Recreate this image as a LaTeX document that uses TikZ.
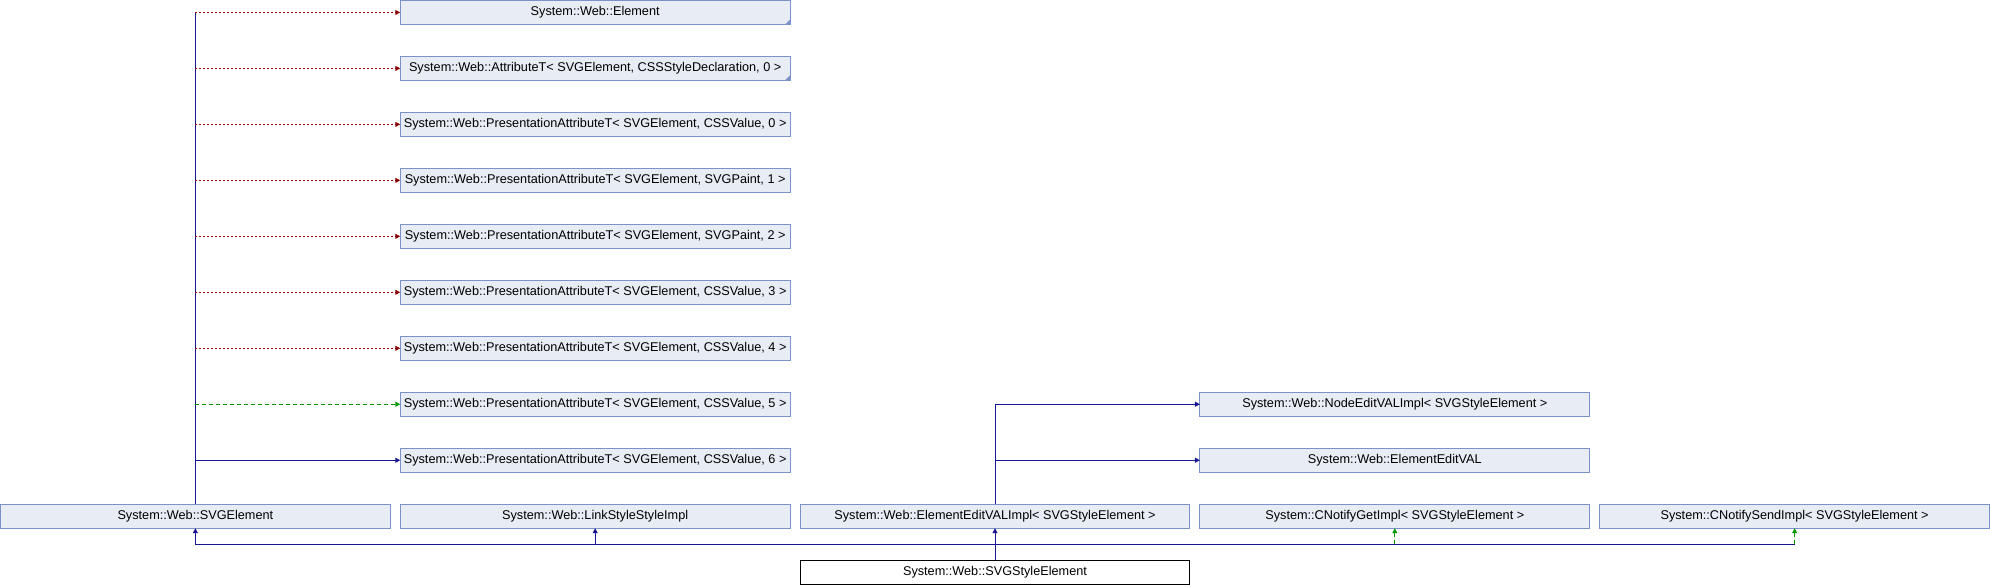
\documentclass[tikz,border=0pt]{standalone}
\usepackage{fontspec}
\setmainfont{Liberation Sans}
\usetikzlibrary{arrows.meta,matrix,positioning}
\definecolor{boxfill}{RGB}{232,236,245}
\definecolor{boxdraw}{RGB}{124,146,202}
\definecolor{pubblue}{RGB}{22,22,145}
\definecolor{privred}{RGB}{140,8,8}
\definecolor{protgreen}{RGB}{0,150,0}
\tikzset{>={Triangle[length=5pt,width=5pt]},
  classbox/.style={draw=boxdraw, fill=boxfill, line width=0.9pt,
    minimum width=390pt, minimum height=24pt, inner sep=0pt,
    outer sep=0pt, font=\fontsize{12.7}{14}\selectfont},
  mainbox/.style={classbox, draw=black, fill=white},
  pub/.style={->, draw=pubblue, line width=1pt},
  priv/.style={->, draw=privred, line width=1pt,
    dash pattern=on 2pt off 2pt},
  prot/.style={->, draw=protgreen, line width=1pt,
    dash pattern=on 4pt off 3pt}}

\begin{document}
\begin{tikzpicture}
  \matrix (m)
    [
      matrix of nodes,
      inner sep  = 0pt,
      row sep    = 31.1pt,
      column sep = 9.1pt,
      nodes      = {classbox}
    ]
    {
      & System::Web::Element \\
      & System::Web::AttributeT< SVGElement, CSSStyleDeclaration, 0 > \\
      & System::Web::PresentationAttributeT< SVGElement, CSSValue, 0 > \\
      & System::Web::PresentationAttributeT< SVGElement, SVGPaint, 1 > \\
      & System::Web::PresentationAttributeT< SVGElement, SVGPaint, 2 > \\
      & System::Web::PresentationAttributeT< SVGElement, CSSValue, 3 > \\
      & System::Web::PresentationAttributeT< SVGElement, CSSValue, 4 > \\
      & System::Web::PresentationAttributeT< SVGElement, CSSValue, 5 >
      & & System::Web::NodeEditVALImpl< SVGStyleElement > \\
      & System::Web::PresentationAttributeT< SVGElement, CSSValue, 6 >
      & & System::Web::ElementEditVAL \\
      System::Web::SVGElement & System::Web::LinkStyleStyleImpl
      & System::Web::ElementEditVALImpl< SVGStyleElement >
      & System::CNotifyGetImpl< SVGStyleElement >
      & System::CNotifySendImpl< SVGStyleElement > \\
      & & |[mainbox]| System::Web::SVGStyleElement \\
    };
  \useasboundingbox (m-11-3.south -| m-10-1.west)
    rectangle (m-1-2.north -| m-10-5.east);
  % truncated bases
  \foreach \r in {1,2}
    \fill[boxdraw] (m-\r-2.south east) -- ++(-5pt,0pt) -- ++(5pt,5pt) -- cycle;
  % SVGElement bases
  \draw[pubblue, line width=1pt] (m-10-1.north) -- (m-10-1.north |- m-1-2);
  \foreach \r in {1,...,7}
    \draw[priv] (m-10-1.north |- m-\r-2) -- (m-\r-2.west);
  \draw[prot] (m-10-1.north |- m-8-2) -- (m-8-2.west);
  \draw[pub] (m-10-1.north |- m-9-2) -- (m-9-2.west);
  % ElementEditVALImpl bases
  \draw[pubblue, line width=1pt] (m-10-3.north) -- (m-10-3.north |- m-8-4);
  \draw[pub] (m-10-3.north |- m-8-4) -- (m-8-4.west);
  \draw[pub] (m-10-3.north |- m-9-4) -- (m-9-4.west);
  % SVGStyleElement bases
  \coordinate (bus) at ([yshift=16pt]m-11-3.north);
  \draw[pub] (m-11-3.north) -- (m-10-3.south);
  \draw[pubblue, line width=1pt] (m-10-1.south |- bus) -- (m-10-5.south |- bus);
  \draw[pub] (m-10-1.south |- bus) -- (m-10-1.south);
  \draw[pub] (m-10-2.south |- bus) -- (m-10-2.south);
  \draw[prot] (m-10-4.south |- bus) -- (m-10-4.south);
  \draw[prot] (m-10-5.south |- bus) -- (m-10-5.south);
\end{tikzpicture}
\end{document}
